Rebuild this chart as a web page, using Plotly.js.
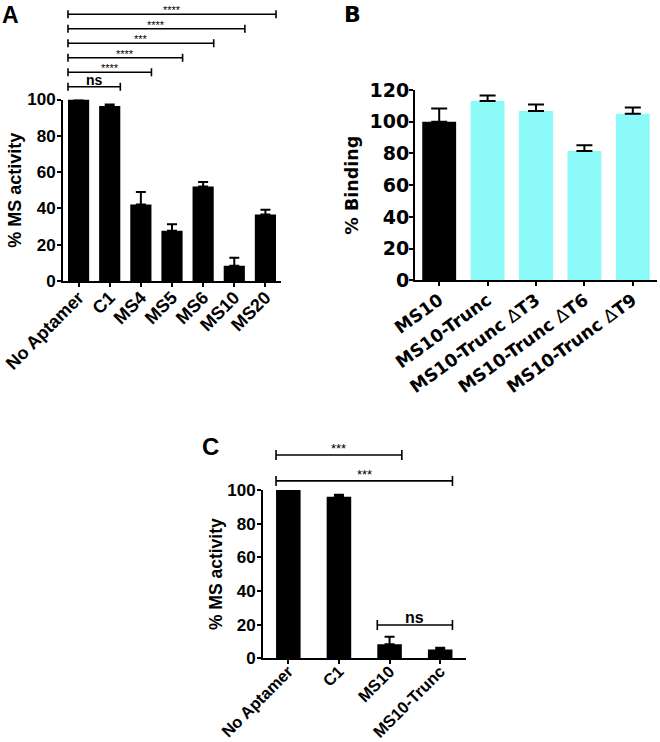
<!DOCTYPE html>
<html><head><meta charset="utf-8">
<script src="https://cdn.plot.ly/plotly-3.0.1.min.js"></script>
<style>html,body{margin:0;padding:0;background:#fff}#chart{width:660px;height:742px}</style>
</head><body><div id="chart"></div>
<script>
// ---------- Panel A ----------
const catsA = ['No Aptamer', 'C1', 'MS4', 'MS5', 'MS6', 'MS10', 'MS20'];
const valsA = [100, 96.4, 42.2, 27.7, 52.0, 8.4, 36.7];
const errA = [0, 0.8, 6.8, 3.5, 2.5, 4.4, 2.6];
const sigTargetsA = ['C1', 'MS4', 'MS5', 'MS6', 'MS10', 'MS20'];
const sigLabelsA = ['ns', '****', '****', '***', '****', '****'];
const sigLevelsA = [107, 115, 123, 131, 139, 147];

// ---------- Panel B ----------
const catsB = ['MS10', 'MS10-Trunc', 'MS10-Trunc ΔT3', 'MS10-Trunc ΔT6', 'MS10-Trunc ΔT9'];
const valsB = [100, 113.1, 106.8, 81.6, 105.1];
const errB = [8.3, 3.4, 4.0, 3.6, 3.8];
const groupB = ['parent', 'trunc', 'trunc', 'trunc', 'trunc'];

// ---------- Panel C ----------
const catsC = ['No Aptamer', 'C1', 'MS10', 'MS10-Trunc'];
const valsC = [100, 96.0, 8.3, 5.3];
const errC = [0, 1.2, 4.5, 1.0];
const sigFromC = ['No Aptamer', 'No Aptamer', 'MS10'];
const sigToC = ['MS10', 'MS10-Trunc', 'MS10-Trunc'];
const sigLabelsC = ['***', '***', 'ns'];
const sigLevelsC = [120.8, 105.4, 19.8];

const W = 660, H = 742;
const BLACK = '#000000', CYAN = '#8cfaf8';
const arial = 'Liberation Sans, Arial, sans-serif';
const deja = 'DejaVu Sans, sans-serif';

const yA = {domain: [0.62129, 0.86590], range: [0, 100]};
const yB = {domain: [0.62224, 0.87871], range: [0, 120]};
const yC = {domain: [0.11280, 0.33962], range: [0, 100]};
const gapA = 0.32, gapB = 0.30, gapC = 0.515;

function toPaper(v, ax) {
  return ax.domain[0] + (v - ax.range[0]) / (ax.range[1] - ax.range[0]) * (ax.domain[1] - ax.domain[0]);
}

function errBar(arr, half) {
  return {type: 'data', array: arr, symmetric: false, arrayminus: arr.map(() => 0),
          color: BLACK, thickness: 2, width: half, visible: true};
}

const traces = [
  {type: 'bar', x: catsA, y: valsA, xaxis: 'x', yaxis: 'y', width: catsA.map(() => 1 - gapA),
   marker: {color: BLACK, line: {width: 0}}, error_y: errBar(errA, 5), showlegend: false},
  {type: 'bar', x: catsB, y: valsB, xaxis: 'x2', yaxis: 'y2', width: catsB.map(() => 1 - gapB),
   marker: {color: groupB.map(g => g === 'parent' ? BLACK : CYAN), line: {width: 0}},
   error_y: errBar(errB, 8), showlegend: false},
  {type: 'bar', x: catsC, y: valsC, xaxis: 'x3', yaxis: 'y3', width: catsC.map(() => 1 - gapC),
   marker: {color: BLACK, line: {width: 0}}, error_y: errBar(errC, 5), showlegend: false}
];

const shapes = [];
const annotations = [];

function bracket(xref, ax, x0, x1, level, label, capPx, labelFont, labelShift) {
  const yp = toPaper(level, ax);
  const cap = capPx / H;
  const line = {color: BLACK, width: 1.6};
  shapes.push({type: 'line', xref: xref, yref: 'paper', x0: x0, x1: x1, y0: yp, y1: yp, line: line});
  shapes.push({type: 'line', xref: xref, yref: 'paper', x0: x0, x1: x0, y0: yp - cap, y1: yp + cap, line: line});
  shapes.push({type: 'line', xref: xref, yref: 'paper', x0: x1, x1: x1, y0: yp - cap, y1: yp + cap, line: line});
  annotations.push({xref: xref, yref: 'paper', x: (x0 + x1) / 2, y: yp, text: label, showarrow: false,
                    yanchor: 'bottom', xanchor: 'center', yshift: labelShift, font: labelFont});
}

// Panel A brackets: from left edge of first bar to right edge of target bar
const hwA = (1 - gapA) / 2;
sigTargetsA.forEach((t, i) => {
  const j = catsA.indexOf(t);
  const lab = sigLabelsA[i];
  const f = lab === 'ns' ? {family: arial, size: 14, weight: 700, color: BLACK}
                         : {family: arial, size: 11, color: BLACK};
  bracket('x', yA, 0 - hwA, j + hwA, sigLevelsA[i], lab, 4, f, lab === 'ns' ? -3 : -4);
});

// Panel C brackets
const hwC = (1 - gapC) / 2;
sigLabelsC.forEach((lab, i) => {
  const a = catsC.indexOf(sigFromC[i]), b = catsC.indexOf(sigToC[i]);
  const f = lab === 'ns' ? {family: arial, size: 16, weight: 700, color: BLACK}
                         : {family: arial, size: 13, color: BLACK};
  bracket('x3', yC, a - hwC, b + hwC, sigLevelsC[i], lab, 5, f, -3);
});

// panel letters
[['A', 10, 15, arial, 23], ['B', 353, 15, deja, 22], ['C', 210, 446, arial, 24]].forEach(p => {
  annotations.push({xref: 'paper', yref: 'paper', x: p[1] / W, y: 1 - p[2] / H, text: '<b>' + p[0] + '</b>',
                    showarrow: false, xanchor: 'center', yanchor: 'middle',
                    font: {family: p[3], size: p[4], weight: 700, color: BLACK}});
});

function yaxis(ax, dtick, font, title, tfont, standoff, anchor, lstand) {
  return {domain: ax.domain, range: ax.range, anchor: anchor, tickmode: 'linear', tick0: 0, dtick: dtick,
          showgrid: false, zeroline: false, showline: true, linecolor: BLACK, linewidth: 2,
          ticks: 'outside', ticklen: 4, tickwidth: 2, tickcolor: BLACK, tickfont: font,
          ticklabelstandoff: lstand,
          title: {text: '<b>' + title + '</b>', font: tfont, standoff: standoff}, fixedrange: true};
}
function xaxis(domain, n, font, angle, anchor, lstand, ticktext, cats) {
  const o = {domain: domain, range: [-0.5, n - 0.5], anchor: anchor, type: 'category',
          showgrid: false, zeroline: false, showline: true, linecolor: BLACK, linewidth: 2,
          ticks: 'outside', ticklen: 4, tickwidth: 2, tickcolor: BLACK, tickfont: font, tickangle: angle,
          ticklabelstandoff: lstand, fixedrange: true};
  if (ticktext) { o.tickmode = 'array'; o.tickvals = cats; o.ticktext = ticktext; }
  return o;
}

const fA = {family: arial, size: 17, weight: 700, color: BLACK};
const fAx = {family: arial, size: 18, weight: 700, color: BLACK};
const fB = {family: deja, size: 19, weight: 700, color: BLACK};
const fBx = {family: deja, size: 17.5, weight: 700, color: BLACK};
const fC = {family: arial, size: 17, weight: 700, color: BLACK};
const fCx = {family: arial, size: 16.5, weight: 700, color: BLACK};

const ticktextB = catsB.map(c => c.replace('Δ', '<span style="font-weight:normal">Δ</span>'));

const layout = {
  width: W, height: H, margin: {l: 0, r: 0, t: 0, b: 0}, paper_bgcolor: '#fff', plot_bgcolor: '#fff',
  showlegend: false,
  xaxis: xaxis([63 / W, 281 / W], catsA.length, fAx, -45, 'y', -7),
  yaxis: yaxis(yA, 20, fA, '% MS activity', {family: arial, size: 18, weight: 700, color: BLACK}, 1, 'x', -2),
  xaxis2: xaxis([415 / W, 657 / W], catsB.length, fBx, -36, 'y2', -3, ticktextB, catsB),
  yaxis2: yaxis(yB, 20, fB, '% Binding', {family: deja, size: 17.5, weight: 700, color: BLACK}, 6, 'x2', -4),
  xaxis3: xaxis([263 / W, 465.5 / W], catsC.length, fCx, -45, 'y3', -9),
  yaxis3: yaxis(yC, 20, fC, '% MS activity', {family: arial, size: 17.5, weight: 700, color: BLACK}, 0, 'x3', -2),
  shapes: shapes, annotations: annotations
};

Plotly.newPlot('chart', traces, layout, {displayModeBar: false, staticPlot: true});
</script></body></html>
